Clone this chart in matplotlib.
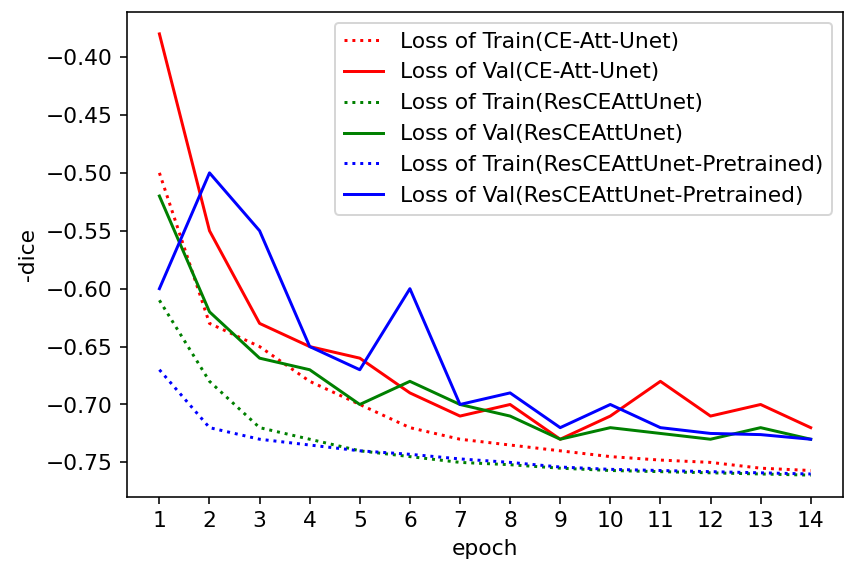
import numpy as np
import matplotlib.pyplot as plt
plt.rcParams.update({'font.size': 11})

epochs = np.arange(1, 15)

# CE-Att-Unet
train_ce = [-0.50, -0.63, -0.65, -0.68, -0.70, -0.72, -0.73, -0.735, -0.74, -0.745, -0.748, -0.75, -0.755, -0.757]
val_ce = [-0.38, -0.55, -0.63, -0.65, -0.66, -0.69, -0.71, -0.70, -0.73, -0.71, -0.68, -0.71, -0.70, -0.72]
# ResCEAttUnet
train_res = [-0.61, -0.68, -0.72, -0.73, -0.74, -0.745, -0.75, -0.752, -0.755, -0.757, -0.758, -0.759, -0.76, -0.761]
val_res = [-0.52, -0.62, -0.66, -0.67, -0.70, -0.68, -0.70, -0.71, -0.73, -0.72, -0.725, -0.73, -0.72, -0.73]
# ResCEAttUnet-Pretrained
train_pre = [-0.67, -0.72, -0.73, -0.735, -0.74, -0.743, -0.747, -0.75, -0.754, -0.756, -0.757, -0.758, -0.759, -0.76]
val_pre = [-0.60, -0.50, -0.55, -0.65, -0.67, -0.60, -0.70, -0.69, -0.72, -0.70, -0.72, -0.725, -0.726, -0.73]

fig, ax = plt.subplots(figsize=(6.0, 3.956), dpi=142.83)
ax.plot(epochs, train_ce, 'r:', label='Loss of Train(CE-Att-Unet)')
ax.plot(epochs, val_ce, 'r-', label='Loss of Val(CE-Att-Unet)')
ax.plot(epochs, train_res, 'g:', label='Loss of Train(ResCEAttUnet)')
ax.plot(epochs, val_res, 'g-', label='Loss of Val(ResCEAttUnet)')
ax.plot(epochs, train_pre, 'b:', label='Loss of Train(ResCEAttUnet-Pretrained)')
ax.plot(epochs, val_pre, 'b-', label='Loss of Val(ResCEAttUnet-Pretrained)')

ax.set_xticks(epochs)
ax.set_xlabel('epoch')
ax.set_ylabel('-dice')
ax.legend(loc='upper right', handlelength=1.8)

plt.subplots_adjust(left=0.148, right=0.984, top=0.979, bottom=0.12)
plt.savefig('out.png')
